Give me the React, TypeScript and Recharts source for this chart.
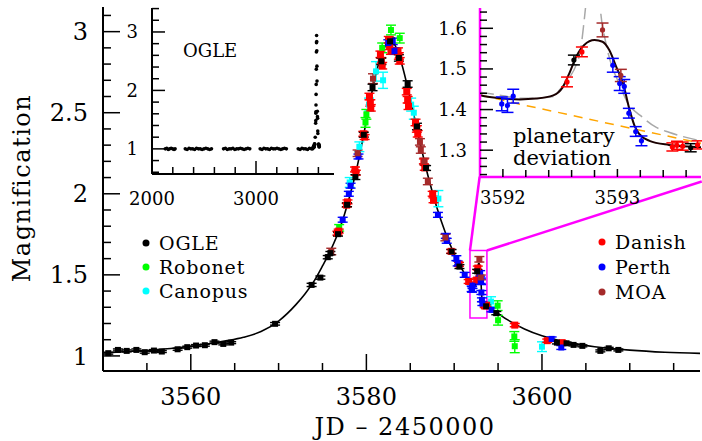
import React from 'react';
import { ComposedChart, Line, Scatter, XAxis, YAxis, ErrorBar, ReferenceArea, ReferenceLine } from 'recharts';

type Pt = [number, number, number];
type XY = [number, number];

// ---------- data (JD-2450000, magnification, error) ----------
const ogle: Pt[] = [
  [3550.6, 1.017, 0.006], [3551.7, 1.037, 0.006], [3552.7, 1.031, 0.006], [3553.8, 1.037, 0.006],
  [3554.75, 1.023, 0.006], [3555.8, 1.033, 0.006], [3556.7, 1.027, 0.006], [3558.5, 1.041, 0.006],
  [3559.6, 1.054, 0.006], [3560.6, 1.064, 0.006], [3561.6, 1.066, 0.006], [3562.7, 1.085, 0.006],
  [3563.7, 1.074, 0.006], [3564.6, 1.082, 0.006], [3569.6, 1.198, 0.008], [3573.76, 1.438, 0.01],
  [3574.76, 1.483, 0.01], [3575.6, 1.609, 0.01], [3575.9, 1.634, 0.01], [3576.77, 1.751, 0.012],
  [3577.8, 1.932, 0.012], [3578.75, 2.103, 0.015], [3579.7, 2.364, 0.015], [3580.7, 2.656, 0.02],
  [3581.7, 2.817, 0.02], [3582.7, 2.94, 0.02], [3583.7, 2.838, 0.02], [3584.7, 2.677, 0.02],
  [3585.76, 2.415, 0.02], [3586.8, 2.159, 0.015], [3589.7, 1.644, 0.012], [3590.6, 1.551, 0.012],
  [3592.62, 1.522, 0.012], [3593.64, 1.306, 0.01], [3594.8, 1.264, 0.01], [3601.7, 1.082, 0.008],
  [3602.8, 1.078, 0.008], [3603.6, 1.068, 0.006], [3604.6, 1.062, 0.006], [3606.65, 1.031, 0.006],
  [3607.6, 1.047, 0.006], [3608.7, 1.037, 0.006],
];

const danish: Pt[] = [
  [3576.7, 1.757, 0.012], [3576.85, 1.77, 0.012], [3577.75, 1.93, 0.012], [3577.85, 1.95, 0.012],
  [3578.7, 2.15, 0.015], [3578.8, 2.13, 0.015], [3579.65, 2.37, 0.015], [3579.8, 2.35, 0.015],
  [3580.35, 2.6, 0.02], [3580.45, 2.56, 0.02], [3580.5, 2.53, 0.02], [3581.6, 2.86, 0.02],
  [3581.7, 2.82, 0.02], [3581.8, 2.79, 0.02], [3582.55, 2.95, 0.02], [3582.65, 2.91, 0.02],
  [3582.8, 2.88, 0.02], [3583.6, 2.88, 0.02], [3583.7, 2.85, 0.02], [3583.8, 2.82, 0.02],
  [3584.6, 2.63, 0.02], [3584.7, 2.58, 0.02], [3584.8, 2.54, 0.02], [3585.6, 2.44, 0.02],
  [3585.75, 2.4, 0.02], [3585.85, 2.37, 0.02], [3586.55, 2.2, 0.015], [3586.65, 2.16, 0.015],
  [3587.55, 2.0, 0.015], [3587.65, 1.96, 0.015], [3589.65, 1.645, 0.012], [3590.55, 1.565, 0.012],
  [3591.65, 1.459, 0.012], [3592.56, 1.468, 0.012], [3592.69, 1.542, 0.012], [3593.48, 1.308, 0.01],
  [3593.52, 1.312, 0.01], [3593.57, 1.31, 0.01], [3593.7, 1.313, 0.01], [3596.9, 1.19, 0.01],
  [3600.6, 1.094, 0.01], [3602.3, 1.082, 0.01],
];

const perth: Pt[] = [
  [3577.3, 1.84, 0.015], [3578.0, 2.0, 0.015], [3578.2, 2.05, 0.015], [3579.1, 2.23, 0.015],
  [3582.5, 2.93, 0.02], [3583.0, 2.94, 0.02], [3583.2, 2.88, 0.02], [3588.15, 1.87, 0.015],
  [3589.05, 1.74, 0.015], [3589.15, 1.71, 0.015], [3590.25, 1.603, 0.015], [3590.4, 1.57, 0.015],
  [3591.2, 1.5, 0.015], [3591.99, 1.414, 0.017], [3592.04, 1.41, 0.017], [3592.09, 1.433, 0.017],
  [3592.96, 1.509, 0.017], [3593.02, 1.464, 0.017], [3593.06, 1.457, 0.017], [3593.1, 1.391, 0.012],
  [3593.16, 1.346, 0.012], [3593.21, 1.323, 0.012], [3594.25, 1.284, 0.012], [3601.1, 1.105, 0.012],
  [3602.2, 1.052, 0.012],
];

const robonet: Pt[] = [
  [3576.9, 1.79, 0.02], [3579.9, 2.44, 0.03], [3580.0, 2.49, 0.03], [3581.8, 2.9, 0.03],
  [3582.8, 3.01, 0.03], [3583.8, 2.96, 0.03], [3594.95, 1.31, 0.03], [3595.0, 1.22, 0.03],
  [3596.85, 1.12, 0.03], [3596.9, 1.06, 0.04],
];

const canopus: Pt[] = [
  [3578.1, 2.07, 0.03], [3579.2, 2.29, 0.03], [3580.3, 2.55, 0.04], [3581.1, 2.755, 0.06],
  [3581.9, 2.7, 0.05], [3585.1, 2.55, 0.04], [3585.4, 2.5, 0.04], [3588.2, 1.97, 0.05],
  [3594.2, 1.335, 0.03], [3600.0, 1.057, 0.03],
];

const moa: Pt[] = [
  [3576.0, 1.644, 0.02], [3579.0, 2.25, 0.02], [3580.75, 2.71, 0.03], [3586.1, 2.32, 0.02],
  [3586.2, 2.27, 0.02], [3586.6, 2.2, 0.02], [3587.0, 2.076, 0.02], [3589.0, 1.73, 0.02],
  [3592.87, 1.596, 0.017], [3593.03, 1.484, 0.015],
];

// OGLE baseline seasons (inset)
const ogleBaseline: XY[] = [
  [2128, 1.0], [2142, 1.01], [2156, 0.99], [2170, 1.0], [2184, 1.01], [2198, 1.0], [2212, 0.99], [2222, 1.0],
  [2320, 1.0], [2338, 0.99], [2356, 1.01], [2374, 1.0], [2392, 1.0], [2410, 0.99], [2428, 1.01], [2446, 1.0],
  [2464, 1.0], [2482, 0.99], [2500, 1.0], [2518, 1.01], [2536, 1.0], [2554, 0.99], [2572, 1.0],
  [2688, 1.0], [2706, 1.01], [2724, 0.99], [2742, 1.0], [2760, 1.0], [2778, 1.01], [2796, 0.99], [2814, 1.0],
  [2832, 1.0], [2850, 1.01], [2868, 1.0], [2886, 0.99], [2904, 1.0], [2922, 1.01], [2940, 1.0],
  [3040, 1.0], [3058, 0.99], [3076, 1.01], [3094, 1.0], [3112, 1.0], [3130, 0.99], [3148, 1.01], [3166, 1.0],
  [3184, 1.0], [3202, 1.01], [3220, 1.0], [3238, 0.99], [3256, 1.0], [3274, 1.01], [3292, 1.0],
  [3406, 1.0], [3424, 0.99], [3442, 1.01], [3460, 1.0], [3478, 1.0], [3496, 0.99], [3514, 1.01], [3532, 1.0], [3545, 1.0],
];

// model light curve
const modelCurve: XY[] = [
  [3550, 1.018], [3553, 1.027], [3556, 1.038], [3559, 1.053], [3562, 1.075], [3564, 1.093], [3566, 1.115],
  [3568, 1.15], [3570, 1.215], [3572, 1.318], [3573, 1.382], [3574, 1.458], [3575, 1.555], [3576, 1.66],
  [3577, 1.79], [3578, 1.965], [3579, 2.18], [3580, 2.45], [3581, 2.72], [3582, 2.895], [3582.6, 2.94],
  [3583, 2.935], [3584, 2.805], [3585, 2.585], [3586, 2.341], [3587, 2.114], [3588, 1.92], [3589, 1.76],
  [3590, 1.63], [3591, 1.524], [3591.5, 1.47], [3591.8, 1.435], [3592.0, 1.427], [3592.15, 1.425],
  [3592.29, 1.427], [3592.44, 1.435], [3592.52, 1.454], [3592.58, 1.489], [3592.64, 1.53], [3592.71, 1.559],
  [3592.8, 1.571], [3592.87, 1.567], [3592.93, 1.546], [3592.99, 1.505], [3593.05, 1.464], [3593.1, 1.406],
  [3593.15, 1.36], [3593.19, 1.34], [3593.28, 1.323], [3593.45, 1.313], [3593.73, 1.307], [3594, 1.298],
  [3595, 1.262], [3596, 1.225], [3598, 1.166], [3600, 1.124], [3603, 1.083], [3606, 1.057], [3610, 1.036],
  [3614, 1.023], [3618, 1.016],
];

const altModel: XY[] = [
  [3591.8, 1.443], [3592.0, 1.434], [3592.15, 1.428], [3592.3, 1.428], [3592.44, 1.432], [3592.5, 1.45],
  [3592.58, 1.478], [3592.64, 1.51], [3592.68, 1.55], [3592.71, 1.62], [3592.74, 1.7], [3592.79, 1.8],
  [3592.83, 1.72], [3592.85, 1.65], [3592.9, 1.563], [3592.96, 1.5], [3592.99, 1.48], [3593.05, 1.44],
  [3593.08, 1.422], [3593.22, 1.381], [3593.34, 1.356], [3593.45, 1.344], [3593.73, 1.323],
];

const noPlanetModel: XY[] = [
  [3591.8, 1.436], [3592.2, 1.41], [3592.6, 1.386], [3593.0, 1.361], [3593.4, 1.337], [3593.73, 1.317],
];

// ticks
const mainXTicks = [3555, 3560, 3565, 3570, 3575, 3580, 3585, 3590, 3595, 3600, 3605, 3610, 3615];
const mainXMajors = [3560, 3580, 3600];
const mainYTicks = [1.0, 1.1, 1.2, 1.3, 1.4, 1.5, 1.6, 1.7, 1.8, 1.9, 2.0, 2.1, 2.2, 2.3, 2.4, 2.5, 2.6, 2.7, 2.8, 2.9, 3.0, 3.1];
const mainYMajors = [1, 1.5, 2, 2.5, 3];
const in1XTicks = [2000, 2200, 2400, 2600, 2800, 3000, 3200, 3400, 3600];
const in1XMajors = [2000, 3000];
const in1YTicks = [0.6, 0.8, 1.0, 1.2, 1.4, 1.6, 1.8, 2.0, 2.2, 2.4, 2.6, 2.8, 3.0, 3.2, 3.4];
const in1YMajors = [1, 2, 3];
const in2XTicks = [3592.0, 3592.2, 3592.4, 3592.6, 3592.8, 3593.0, 3593.2, 3593.4, 3593.6];
const in2XMajors = [3592, 3593];
const in2YTicks = [1.24, 1.26, 1.28, 1.3, 1.32, 1.34, 1.36, 1.38, 1.4, 1.42, 1.44, 1.46, 1.48, 1.5, 1.52, 1.54, 1.56, 1.58, 1.6, 1.62, 1.64];
const in2YMajors = [1.3, 1.4, 1.5, 1.6];

const mainXDomain: [number, number] = [3550, 3618];
const mainYDomain: [number, number] = [0.907, 3.152];
const in1XDomain: [number, number] = [2000, 3750];
const in1YDomain: [number, number] = [0.57, 3.41];
const zoomBox = { x1: 3591.8, x2: 3593.73, y1: 1.234, y2: 1.65 };
const connectorEnds = [{ x: 3592.9, y: 2.105 }, { x: 3618.2, y: 2.076 }];

const FONT = 'DejaVu Serif';
const MAGENTA = '#ff00ff';

const series = [
  { name: 'Robonet', data: robonet, color: '#00ff00', size: 6 },
  { name: 'Canopus', data: canopus, color: '#00ffff', size: 6 },
  { name: 'Danish', data: danish, color: '#ff0000', size: 7 },
  { name: 'Perth', data: perth, color: '#0000ff', size: 6 },
  { name: 'MOA', data: moa, color: '#a52a2a', size: 6 },
  { name: 'OGLE', data: ogle, color: '#000000', size: 6 },
];

const legendLeft = [
  { name: 'OGLE', color: '#000000' },
  { name: 'Robonet', color: '#00ff00' },
  { name: 'Canopus', color: '#00ffff' },
];
const legendRight = [
  { name: 'Danish', color: '#ff0000' },
  { name: 'Perth', color: '#0000ff' },
  { name: 'MOA', color: '#a52a2a' },
];

const toObj = (a: Pt[]) => a.map(([x, y, e]) => ({ x, y, e }));
const toXY = (a: XY[]) => a.map(([x, y]) => ({ x, y }));
const inRange = (a: Pt[], lo: number, hi: number) => a.filter((p) => p[0] >= lo && p[0] <= hi);

type Side = 'left' | 'right' | 'bottom' | 'top';
interface TickOpts {
  side: Side;
  majors: number[];
  labels: boolean;
  majorLen: number;
  minorLen: number;
  fontSize?: number;
  gap?: number;
  sw?: number;
}

const fmt = (v: number) => String(Math.round(v * 100) / 100);

function makeTick(o: TickOpts) {
  return (props: any) => {
    const { x, y, payload } = props;
    const v = payload.value as number;
    const major = o.majors.some((m) => Math.abs(m - v) < 1e-6);
    const len = major ? o.majorLen : o.minorLen;
    let x2 = x;
    let y2 = y;
    if (o.side === 'left') x2 = x + len;
    if (o.side === 'right') x2 = x - len;
    if (o.side === 'bottom') y2 = y - len;
    if (o.side === 'top') y2 = y + len;
    const fs = o.fontSize || 18;
    let label: any = null;
    if (o.labels && major) {
      if (o.side === 'left') {
        label = (
          <text x={x - (o.gap || 10)} y={y + fs * 0.36} textAnchor="end" fontSize={fs} fontFamily={FONT} fill="#000">
            {fmt(v)}
          </text>
        );
      } else if (o.side === 'bottom') {
        label = (
          <text x={x} y={y + (o.gap || 20)} textAnchor="middle" fontSize={fs} fontFamily={FONT} fill="#000">
            {fmt(v)}
          </text>
        );
      }
    }
    return (
      <g>
        <line x1={x} y1={y} x2={x2} y2={y2} stroke="#000" strokeWidth={o.sw || 1.5} />
        {label}
      </g>
    );
  };
}

const squareShape = (size: number, color: string) => (p: any) => {
  if (p.cx == null || p.cy == null) return <g />;
  return <rect x={p.cx - size / 2} y={p.cy - size / 2} width={size} height={size} fill={color} />;
};
const circleShape = (r: number, color: string) => (p: any) => {
  if (p.cx == null || p.cy == null) return <g />;
  return <circle cx={p.cx} cy={p.cy} r={r} fill={color} />;
};

const axisFrame = { stroke: '#000', strokeWidth: 2 };
const magFrame = { stroke: MAGENTA, strokeWidth: 2.5 };

function MainChart() {
  return (
    <ComposedChart width={702} height={441} margin={{ top: 7, right: 2, bottom: 0, left: 0 }}>
      <XAxis xAxisId={0} type="number" dataKey="x" domain={mainXDomain} allowDataOverflow ticks={mainXTicks}
        interval={0} height={70} tickSize={0} tickMargin={0} tickLine={false} axisLine={axisFrame}
        tick={makeTick({ side: 'bottom', majors: mainXMajors, labels: true, majorLen: 17, minorLen: 8, fontSize: 24, gap: 34 })} />
      <XAxis xAxisId="top" orientation="top" type="number" domain={mainXDomain} allowDataOverflow ticks={mainXTicks}
        interval={0} height={0} tickSize={0} tickMargin={0} tickLine={false} axisLine={axisFrame}
        tick={makeTick({ side: 'top', majors: mainXMajors, labels: false, majorLen: 17, minorLen: 8 })} />
      <YAxis yAxisId={0} type="number" dataKey="y" domain={mainYDomain} allowDataOverflow ticks={mainYTicks}
        interval={0} width={103} tickSize={0} tickMargin={0} tickLine={false} axisLine={axisFrame}
        tick={makeTick({ side: 'left', majors: mainYMajors, labels: true, majorLen: 17, minorLen: 8, fontSize: 24, gap: 15 })} />
      <YAxis yAxisId="right" orientation="right" type="number" domain={mainYDomain} allowDataOverflow ticks={mainYTicks}
        interval={0} width={0} tickSize={0} tickMargin={0} tickLine={false} axisLine={axisFrame}
        tick={makeTick({ side: 'right', majors: mainYMajors, labels: false, majorLen: 17, minorLen: 8 })} />
      <ReferenceArea x1={zoomBox.x1} x2={zoomBox.x2} y1={zoomBox.y1} y2={zoomBox.y2} fill="none" fillOpacity={0}
        stroke={MAGENTA} strokeWidth={1.5} ifOverflow="visible" />
      <ReferenceLine segment={[{ x: zoomBox.x1, y: zoomBox.y2 }, connectorEnds[0]]} stroke={MAGENTA} strokeWidth={2.5} ifOverflow="visible" />
      <ReferenceLine segment={[{ x: zoomBox.x2, y: zoomBox.y2 }, connectorEnds[1]]} stroke={MAGENTA} strokeWidth={2.5} ifOverflow="visible" />
      <Line data={toXY(modelCurve)} dataKey="y" type="monotone" stroke="#000" strokeWidth={1.6} dot={false} isAnimationActive={false} />
      {series.map((s) => (
        <Scatter key={s.name} name={s.name} data={toObj(s.data)} dataKey="y" fill={s.color}
          shape={squareShape(s.size, s.color)} isAnimationActive={false}>
          <ErrorBar dataKey="e" direction="y" width={5} stroke={s.color} strokeWidth={1.4} />
        </Scatter>
      ))}
    </ComposedChart>
  );
}

function InsetOgle() {
  const pts = [...toXY(ogleBaseline), ...ogle.map(([x, y]) => ({ x, y }))];
  return (
    <ComposedChart width={240} height={210} margin={{ top: 8, right: 6, bottom: 0, left: 0 }}>
      <XAxis xAxisId={0} type="number" dataKey="x" domain={in1XDomain} allowDataOverflow ticks={in1XTicks}
        interval={0} height={36} tickSize={0} tickMargin={0} tickLine={false} axisLine={axisFrame}
        tick={makeTick({ side: 'bottom', majors: in1XMajors, labels: true, majorLen: 13, minorLen: 7, fontSize: 18, gap: 31 })} />
      <XAxis xAxisId="top" orientation="top" type="number" domain={in1XDomain} allowDataOverflow ticks={in1XTicks}
        interval={0} height={0} tickSize={0} tickMargin={0} tickLine={false} axisLine={axisFrame}
        tick={makeTick({ side: 'top', majors: in1XMajors, labels: false, majorLen: 13, minorLen: 7 })} />
      <YAxis yAxisId={0} type="number" dataKey="y" domain={in1YDomain} allowDataOverflow ticks={in1YTicks}
        interval={0} width={52} tickSize={0} tickMargin={0} tickLine={false} axisLine={axisFrame}
        tick={makeTick({ side: 'left', majors: in1YMajors, labels: true, majorLen: 13, minorLen: 7, fontSize: 18, gap: 14 })} />
      <YAxis yAxisId="right" orientation="right" type="number" domain={in1YDomain} allowDataOverflow ticks={in1YTicks}
        interval={0} width={0} tickSize={0} tickMargin={0} tickLine={false} axisLine={axisFrame}
        tick={makeTick({ side: 'right', majors: in1YMajors, labels: false, majorLen: 13, minorLen: 7 })} />
      <Scatter data={pts} dataKey="y" fill="#000" shape={circleShape(1.8, '#000')} isAnimationActive={false} />
    </ComposedChart>
  );
}

function InsetZoom() {
  const lo = zoomBox.x1 - 0.05;
  const hi = zoomBox.x2 + 0.05;
  const xd: [number, number] = [zoomBox.x1, zoomBox.x2];
  const yd: [number, number] = [zoomBox.y1, zoomBox.y2];
  const curve = modelCurve.filter((p) => p[0] >= 3591 && p[0] <= 3594.5);
  return (
    <ComposedChart width={282} height={210} margin={{ top: 8, right: 1, bottom: 0, left: 0 }}>
      <XAxis xAxisId={0} type="number" dataKey="x" domain={xd} allowDataOverflow ticks={in2XTicks}
        interval={0} height={33} tickSize={0} tickMargin={0} tickLine={false} axisLine={magFrame}
        tick={makeTick({ side: 'bottom', majors: in2XMajors, labels: true, majorLen: 8, minorLen: 7, fontSize: 18, gap: 26.5 })} />
      <XAxis xAxisId="top" orientation="top" type="number" domain={xd} allowDataOverflow ticks={in2XTicks}
        interval={0} height={0} tickSize={0} tickMargin={0} tickLine={false} axisLine={magFrame}
        tick={makeTick({ side: 'top', majors: in2XMajors, labels: false, majorLen: 8, minorLen: 7 })} />
      <YAxis yAxisId={0} type="number" dataKey="y" domain={yd} allowDataOverflow ticks={in2YTicks}
        interval={0} width={60} tickSize={0} tickMargin={0} tickLine={false} axisLine={magFrame}
        tick={makeTick({ side: 'left', majors: in2YMajors, labels: true, majorLen: 13, minorLen: 7, fontSize: 18, gap: 13 })} />
      <YAxis yAxisId="right" orientation="right" type="number" domain={yd} allowDataOverflow ticks={in2YTicks}
        interval={0} width={0} tickSize={0} tickMargin={0} tickLine={false} axisLine={magFrame}
        tick={makeTick({ side: 'right', majors: in2YMajors, labels: false, majorLen: 13, minorLen: 7 })} />
      <Line data={toXY(noPlanetModel)} dataKey="y" type="linear" stroke="#ffa500" strokeWidth={1.5}
        strokeDasharray="9 7" dot={false} isAnimationActive={false} />
      <Line data={toXY(altModel)} dataKey="y" type="monotone" stroke="#a8a8a8" strokeWidth={1.5}
        strokeDasharray="14 6" dot={false} isAnimationActive={false} />
      <Line data={toXY(curve)} dataKey="y" type="monotone" stroke="#1a0000" strokeWidth={2} dot={false} isAnimationActive={false} />
      {series.map((s) => (
        <Scatter key={s.name} data={toObj(inRange(s.data, lo, hi))} dataKey="y" fill={s.color}
          shape={circleShape(2.6, s.color)} isAnimationActive={false}>
          <ErrorBar dataKey="e" direction="y" width={6} stroke={s.color} strokeWidth={1.5} />
        </Scatter>
      ))}
    </ComposedChart>
  );
}

export default function App() {
  const abs = (l: number, t: number): React.CSSProperties => ({ position: 'absolute', left: l, top: t });
  return (
    <div style={{ position: 'absolute', left: 0, top: 0, width: 702, height: 441, background: '#fff', fontFamily: FONT }}>
      <div style={abs(0, 0)}><MainChart /></div>
      <div style={{ ...abs(152, 8), width: 182, height: 166, background: '#fff' }} />
      <div style={abs(100, 0)}><InsetOgle /></div>
      <div style={{ ...abs(480, 8), width: 221, height: 169, background: '#fff' }} />
      <div style={abs(420, 0)}><InsetZoom /></div>
      <svg width={702} height={441} style={{ position: 'absolute', left: 0, top: 0, pointerEvents: 'none' }} fontFamily={FONT}>
        <text transform="translate(30,188) rotate(-90)" textAnchor="middle" fontSize={24} letterSpacing={1.5}>Magnification</text>
        <text x={405} y={435} textAnchor="middle" fontSize={24} letterSpacing={1.5}>JD – 2450000</text>
        {legendLeft.map((l, i) => (
          <g key={l.name}>
            <circle cx={146} cy={243 + i * 24} r={3.5} fill={l.color} />
            <text x={159} y={250 + i * 24} fontSize={19} letterSpacing={0.8}>{l.name}</text>
          </g>
        ))}
        {legendRight.map((l, i) => (
          <g key={l.name}>
            <circle cx={602} cy={242 + i * 25} r={3.5} fill={l.color} />
            <text x={615} y={249 + i * 25} fontSize={19} letterSpacing={0.8}>{l.name}</text>
          </g>
        ))}
        <text x={183} y={57} fontSize={18}>OGLE</text>
        <text x={513} y={143} fontSize={21}>planetary</text>
        <text x={513} y={165} fontSize={21}>deviation</text>
      </svg>
    </div>
  );
}
